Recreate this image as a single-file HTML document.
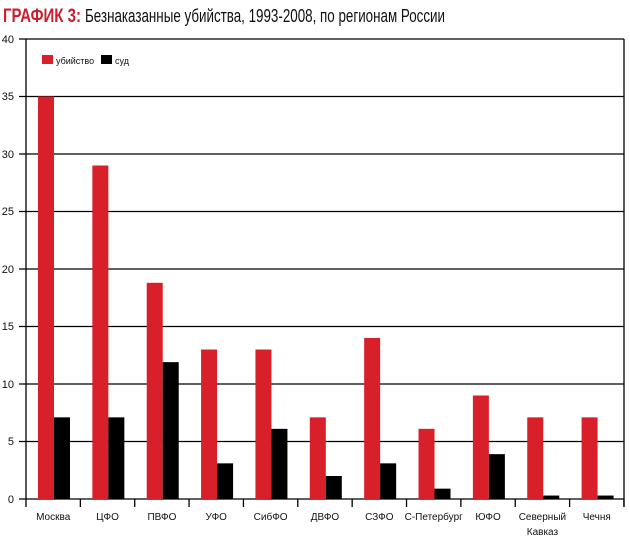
<!DOCTYPE html>
<html><head><meta charset="utf-8"><style>
html,body{margin:0;padding:0;background:#fff;width:630px;height:540px;overflow:hidden}
svg text{font-family:"Liberation Sans",sans-serif}
</style></head><body>
<svg width="630" height="540" xmlns="http://www.w3.org/2000/svg">
<text x="3" y="22" font-size="19" fill="#c8202f" font-weight="bold" textLength="78" lengthAdjust="spacingAndGlyphs">ГРАФИК 3:</text>
<text x="85" y="22" font-size="18" fill="#111" textLength="360" lengthAdjust="spacingAndGlyphs">Безнаказанные убийства, 1993-2008, по регионам России</text>
<g stroke="#000" stroke-width="1.3">
<line x1="19" y1="39" x2="624" y2="39"/><line x1="19" y1="96.5" x2="624" y2="96.5"/>
<line x1="19" y1="154" x2="624" y2="154"/><line x1="19" y1="211.5" x2="624" y2="211.5"/>
<line x1="19" y1="269" x2="624" y2="269"/><line x1="19" y1="326.5" x2="624" y2="326.5"/>
<line x1="19" y1="384" x2="624" y2="384"/><line x1="19" y1="441.5" x2="624" y2="441.5"/>
<line x1="19" y1="499" x2="624" y2="499"/>
<line x1="26" y1="39" x2="26" y2="507"/><line x1="624" y1="39" x2="624" y2="507"/>
</g>
<g font-size="11" fill="#111" text-anchor="end">
<text x="14" y="43">40</text><text x="14" y="100">35</text><text x="14" y="158">30</text>
<text x="14" y="215">25</text><text x="14" y="273">20</text><text x="14" y="330">15</text>
<text x="14" y="388">10</text><text x="14" y="445">5</text><text x="14" y="503">0</text>
</g>
<rect x="42" y="55" width="11" height="9" fill="#d8202a"/>
<text x="56" y="64" font-size="9" fill="#111">убийство</text>
<rect x="101" y="55" width="11" height="9" fill="#000"/>
<text x="115" y="64" font-size="9" fill="#111">суд</text>
<g id="bars"></g>
<g id="lbl" font-size="10" fill="#111" text-anchor="middle"></g>
</svg>
<script>
var red=[35,29,18.8,13,13,7.1,14,6.1,9,7.1,7.1],blk=[7.1,7.1,11.9,3.1,6.1,2,3.1,0.9,3.9,0.3,0.3];
var names=["Москва","ЦФО","ПВФО","УФО","СибФО","ДВФО","СЗФО","С-Петербург","ЮФО","Северный|Кавказ","Чечня"];
var ns="http://www.w3.org/2000/svg",b=document.getElementById("bars"),l=document.getElementById("lbl"),svg=document.querySelector("svg");
var step=54.36,s=11.5;
for(var i=0;i<11;i++){
 var x0=26+i*step;
 var r=document.createElementNS(ns,"rect");r.setAttribute("x",x0+12);r.setAttribute("width",16);r.setAttribute("y",499-red[i]*s);r.setAttribute("height",red[i]*s);r.setAttribute("fill","#d8202a");b.appendChild(r);
 var k=document.createElementNS(ns,"rect");k.setAttribute("x",x0+28);k.setAttribute("width",16);k.setAttribute("y",499-blk[i]*s);k.setAttribute("height",Math.max(blk[i]*s,2));k.setAttribute("fill","#000");b.appendChild(k);
 var t=document.createElementNS(ns,"line");t.setAttribute("x1",x0+step);t.setAttribute("x2",x0+step);t.setAttribute("y1",499);t.setAttribute("y2",507);t.setAttribute("stroke","#000");t.setAttribute("stroke-width","1.3");svg.appendChild(t);
 var parts=names[i].split("|");
 for(var j=0;j<parts.length;j++){var tx=document.createElementNS(ns,"text");tx.setAttribute("x",x0+step/2);tx.setAttribute("y",520+j*15);tx.textContent=parts[j];l.appendChild(tx);}
}
</script>
</body></html>
